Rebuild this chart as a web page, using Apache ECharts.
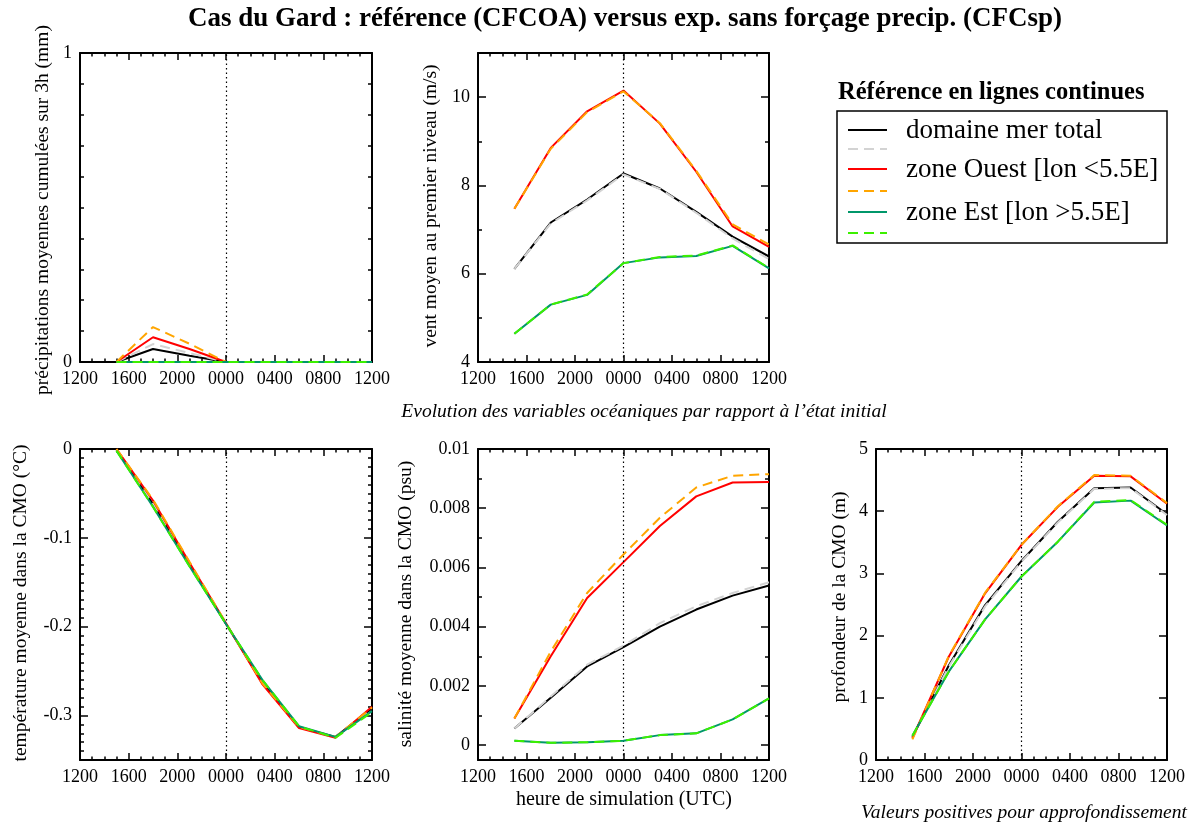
<!DOCTYPE html>
<html>
<head>
<meta charset="utf-8">
<script src="https://cdn.jsdelivr.net/npm/echarts@6/dist/echarts.min.js"></script>
<style>
  html, body { margin: 0; padding: 0; background: #fff; }
  #chart { width: 1196px; height: 825px; }
</style>
</head>
<body>
<div id="chart"></div>
<script>
// Simulation hours counted from 12 UTC on the first day (3-hourly outputs)
const hours = [3, 6, 9, 12, 15, 18, 21, 24];
const timeTickLabels = ['1200', '1600', '2000', '0000', '0400', '0800', '1200'];

// Mean 3h accumulated precipitation (mm)
const precipTotalRef = [0, 0.042, 0.020, 0, 0, 0, 0, 0];
const precipTotalExp = [0, 0.058, 0.029, 0, 0, 0, 0, 0];
const precipWestRef  = [0, 0.080, 0.042, 0, 0, 0, 0, 0];
const precipWestExp  = [0, 0.113, 0.059, 0, 0, 0, 0, 0];
const precipEastRef  = [0, 0, 0, 0, 0, 0, 0, 0];
const precipEastExp  = [0, 0, 0, 0, 0, 0, 0, 0];

// Mean first-level wind speed (m/s)
const windTotalRef = [6.11, 7.16, 7.68, 8.27, 7.93, 7.40, 6.84, 6.39];
const windTotalExp = [6.11, 7.14, 7.66, 8.25, 7.92, 7.38, 6.80, 6.33];
const windWestRef  = [7.47, 8.85, 9.68, 10.15, 9.40, 8.31, 7.07, 6.61];
const windWestExp  = [7.47, 8.83, 9.66, 10.13, 9.41, 8.33, 7.12, 6.66];
const windEastRef  = [4.64, 5.30, 5.52, 6.24, 6.37, 6.40, 6.63, 6.12];
const windEastExp  = [4.64, 5.30, 5.53, 6.24, 6.38, 6.41, 6.64, 6.13];

// Mixed-layer mean temperature change (°C)
const tempTotalRef = [-0.001, -0.062, -0.130, -0.197, -0.263, -0.313, -0.324, -0.292];
const tempTotalExp = [-0.001, -0.061, -0.129, -0.197, -0.263, -0.313, -0.324, -0.293];
const tempWestRef  = [0, -0.058, -0.128, -0.196, -0.265, -0.314, -0.325, -0.290];
const tempWestExp  = [0, -0.057, -0.127, -0.196, -0.264, -0.313, -0.324, -0.291];
const tempEastRef  = [-0.002, -0.065, -0.132, -0.197, -0.260, -0.312, -0.324, -0.295];
const tempEastExp  = [-0.002, -0.065, -0.132, -0.197, -0.260, -0.312, -0.325, -0.296];

// Mixed-layer mean salinity change (psu)
const salTotalRef = [0.00056, 0.00160, 0.00266, 0.00331, 0.00400, 0.00458, 0.00505, 0.00539];
const salTotalExp = [0.00056, 0.00164, 0.00272, 0.00336, 0.00412, 0.00469, 0.00514, 0.00550];
const salWestRef  = [0.00090, 0.00300, 0.00497, 0.00618, 0.00740, 0.00840, 0.00887, 0.00889];
const salWestExp  = [0.00090, 0.00316, 0.00514, 0.00644, 0.00768, 0.00870, 0.00910, 0.00915];
const salEastRef  = [0.00015, 0.00008, 0.00010, 0.00015, 0.00034, 0.00040, 0.00087, 0.00158];
const salEastExp  = [0.00015, 0.00008, 0.00010, 0.00015, 0.00034, 0.00040, 0.00087, 0.00158];

// Mixed-layer depth change (m)
const depthTotalRef = [0.37, 1.52, 2.49, 3.20, 3.83, 4.37, 4.38, 3.95];
const depthTotalExp = [0.37, 1.50, 2.47, 3.19, 3.82, 4.36, 4.37, 3.94];
const depthWestRef  = [0.35, 1.66, 2.68, 3.46, 4.07, 4.57, 4.56, 4.12];
const depthWestExp  = [0.33, 1.67, 2.69, 3.46, 4.08, 4.58, 4.57, 4.13];
const depthEastRef  = [0.39, 1.42, 2.26, 2.95, 3.51, 4.14, 4.17, 3.77];
const depthEastExp  = [0.39, 1.42, 2.26, 2.95, 3.51, 4.15, 4.18, 3.78];

// Y tick values per panel
const precipLabels = [0, 1];
const precipMinor  = [0.1, 0.2, 0.3, 0.4, 0.5, 0.6, 0.7, 0.8, 0.9];
const windLabels   = [4, 6, 8, 10];
const windMinor    = [5, 7, 9];
const tempLabels   = [0, -0.1, -0.2, -0.3];
const tempMinor    = [-0.01, -0.02, -0.03, -0.04, -0.05, -0.06, -0.07, -0.08, -0.09,
                      -0.11, -0.12, -0.13, -0.14, -0.15, -0.16, -0.17, -0.18, -0.19,
                      -0.21, -0.22, -0.23, -0.24, -0.25, -0.26, -0.27, -0.28, -0.29,
                      -0.31, -0.32, -0.33, -0.34];
const salLabels    = [0, 0.002, 0.004, 0.006, 0.008, 0.01];
const salMinor     = [0.001, 0.003, 0.005, 0.007, 0.009];
const depthLabels  = [0, 1, 2, 3, 4, 5];
const depthMinor   = [];

const legendNames = ['domaine mer total', 'zone Ouest [lon <5.5E]', 'zone Est [lon >5.5E]'];

const FONT = "'Liberation Serif', 'DejaVu Serif', serif";
const C = {
  totalRef: '#000000', totalExp: '#d3d3d3',
  westRef: '#ff0000', westExp: '#ffa500',
  eastRef: '#00976a', eastExp: '#3cf000'
};
const DASH = [10, 6];

const grids = [];
const xAxes = [];
const yAxes = [];
const series = [];

function addPanel(box, yMin, yMax, labels, majorTicks, minorTicks, sets) {
  const g = grids.length;
  grids.push({ left: box[0], top: box[1], width: box[2], height: box[3] });

  const lineStyle = { color: '#000', width: 1.5 };
  const axisLine = { show: true, onZero: false, lineStyle: { color: '#000', width: 2 } };
  const noLine = { show: false, onZero: false };

  // bottom and top time axes
  const xBase = {
    gridIndex: g, type: 'value', min: 0, max: 24, interval: 4, offset: 0,
    splitLine: { show: false }, axisLine,
    axisTick: { show: true, inside: true, length: 7, lineStyle },
    minorTick: { show: true, splitNumber: 4, length: 3.5, lineStyle }
  };
  const xi = xAxes.length;
  xAxes.push(Object.assign({}, xBase, {
    position: 'bottom',
    axisLabel: {
      show: true, margin: 8, color: '#000', fontFamily: FONT, fontSize: 18,
      formatter: v => timeTickLabels[Math.round(v / 4)]
    }
  }));
  xAxes.push(Object.assign({}, xBase, { position: 'top', axisLabel: { show: false } }));

  // left and right value axes, major and minor tick layers
  const yBase = { gridIndex: g, type: 'value', min: yMin, max: yMax, offset: 0, splitLine: { show: false } };
  const yi = yAxes.length;
  yAxes.push(Object.assign({}, yBase, {
    position: 'left', axisLine,
    axisTick: { show: true, inside: true, length: 8, customValues: majorTicks, lineStyle },
    axisLabel: {
      show: true, customValues: labels, margin: 8, color: '#000',
      fontFamily: FONT, fontSize: 18, formatter: v => String(v)
    }
  }));
  yAxes.push(Object.assign({}, yBase, {
    position: 'right', axisLine,
    axisTick: { show: true, inside: true, length: 8, customValues: majorTicks, lineStyle },
    axisLabel: { show: false }
  }));
  if (minorTicks.length) {
    ['left', 'right'].forEach(pos => yAxes.push(Object.assign({}, yBase, {
      position: pos, axisLine: noLine,
      axisTick: { show: true, inside: true, length: 4, customValues: minorTicks, lineStyle },
      axisLabel: { show: false }
    })));
  }

  sets.forEach((s, k) => {
    const item = {
      type: 'line', xAxisIndex: xi, yAxisIndex: yi,
      data: hours.map((h, i) => [h, s.values[i]]),
      showSymbol: false, symbol: 'none', silent: true,
      lineStyle: { color: s.color, width: 2, type: s.dashed ? DASH : 'solid' },
      z: 2 + k
    };
    if (k === 0) {
      item.markLine = {
        silent: true, symbol: ['none', 'none'], label: { show: false },
        lineStyle: { color: '#000', width: 1.2, type: [1.5, 3] },
        data: [{ xAxis: 12 }]
      };
    }
    series.push(item);
  });
}

function six(tr, te, wr, we, er, ee) {
  return [
    { values: tr, color: C.totalRef },
    { values: te, color: C.totalExp, dashed: true },
    { values: wr, color: C.westRef },
    { values: we, color: C.westExp, dashed: true },
    { values: er, color: C.eastRef },
    { values: ee, color: C.eastExp, dashed: true }
  ];
}

addPanel([80, 53, 292, 309], 0, 1, precipLabels, [], precipMinor,
  six(precipTotalRef, precipTotalExp, precipWestRef, precipWestExp, precipEastRef, precipEastExp));
addPanel([478, 53, 291, 309], 4, 11, windLabels, windLabels, windMinor,
  six(windTotalRef, windTotalExp, windWestRef, windWestExp, windEastRef, windEastExp));
addPanel([80, 449, 292, 311], -0.35, 0, tempLabels, tempLabels, tempMinor,
  six(tempTotalRef, tempTotalExp, tempWestRef, tempWestExp, tempEastRef, tempEastExp));
addPanel([478, 449, 291, 311], -0.0005, 0.01, salLabels, salLabels, salMinor,
  six(salTotalRef, salTotalExp, salWestRef, salWestExp, salEastRef, salEastExp));
addPanel([876, 449, 291, 311], 0, 5, depthLabels, depthLabels, depthMinor,
  six(depthTotalRef, depthTotalExp, depthWestRef, depthWestExp, depthEastRef, depthEastExp));

function text(x, y, str, font, extra) {
  return Object.assign({
    type: 'text', x, y,
    style: { text: str, font, fill: '#000', textAlign: 'center', textVerticalAlign: 'middle' }
  }, extra || {});
}
function vtext(x, y, str) {
  return text(x, y, str, '19.5px ' + FONT, { rotation: Math.PI / 2 });
}

const graphics = [
  text(625, 19, 'Cas du Gard : référence (CFCOA) versus exp. sans forçage precip. (CFCsp)', 'bold 27px ' + FONT),
  vtext(43, 210, 'précipitations moyennes cumulées sur 3h (mm)'),
  vtext(431, 206, 'vent moyen au premier niveau (m/s)'),
  vtext(21, 603, 'température moyenne dans la CMO (°C)'),
  vtext(406, 604, 'salinité moyenne dans la CMO (psu)'),
  vtext(840, 597, 'profondeur de la CMO (m)'),
  text(644, 412, 'Evolution des variables océaniques par rapport à l\u2019état initial', 'italic 19.5px ' + FONT),
  text(624, 800, 'heure de simulation (UTC)', '20px ' + FONT),
  text(1024, 813, 'Valeurs positives pour approfondissement', 'italic 19.5px ' + FONT),
  // legend
  {
    type: 'text', x: 838, y: 93,
    style: { text: 'Référence en lignes continues', font: 'bold 24.5px ' + FONT, fill: '#000',
             textAlign: 'left', textVerticalAlign: 'middle' }
  },
  {
    type: 'rect', shape: { x: 837, y: 111, width: 330, height: 132 },
    style: { fill: '#fff', stroke: '#000', lineWidth: 1.5 }
  }
];
const legendRows = [
  { y: 130, color: C.totalRef }, { y: 149, color: C.totalExp, dashed: true },
  { y: 169, color: C.westRef },  { y: 191, color: C.westExp, dashed: true },
  { y: 212, color: C.eastRef },  { y: 233, color: C.eastExp, dashed: true }
];
legendRows.forEach((r, i) => {
  graphics.push({
    type: 'line', shape: { x1: 848, y1: r.y, x2: 887, y2: r.y },
    style: { stroke: r.color, lineWidth: 2, lineDash: r.dashed ? DASH : null }
  });
  if (!r.dashed) {
    graphics.push({
      type: 'text', x: 906, y: r.y + 1,
      style: { text: legendNames[i / 2], font: '27px ' + FONT, fill: '#000',
               textAlign: 'left', textVerticalAlign: 'middle' }
    });
  }
});

const chart = echarts.init(document.getElementById('chart'), null, { renderer: 'canvas' });
chart.setOption({
  backgroundColor: '#fff',
  animation: false,
  grid: grids,
  xAxis: xAxes,
  yAxis: yAxes,
  series,
  graphic: graphics
});
</script>
</body>
</html>
